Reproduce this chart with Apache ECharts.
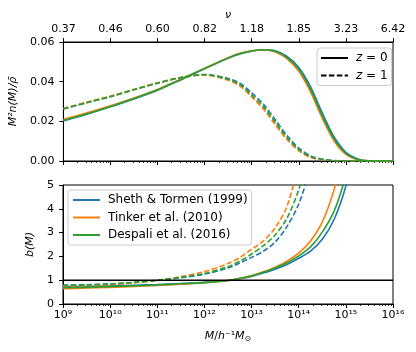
<!DOCTYPE html>
<html>
<head>
<meta charset="utf-8">
<script src="https://cdn.jsdelivr.net/npm/echarts@6/dist/echarts.min.js"></script>
<style>
html, body {margin: 0; padding: 0; background: #fff;}
#chart {width: 416px; height: 352px;}
</style>
</head>
<body>
<div id="chart"></div>
<script>
// log10(M / h^-1 Msun), shared by every curve
const logM = [9, 9.5, 10, 10.5, 11, 11.5, 12, 12.5, 12.75, 13, 13.25, 13.5, 13.75, 14, 14.25, 14.5, 14.75, 15, 15.25, 15.5, 16]

// top axis: nu at each decade
const nuLabels = ['0.37', '0.46', '0.60', '0.82', '1.18', '1.85', '3.23', '6.42']
const massLabels = ['10⁹', '10¹⁰', '10¹¹', '10¹²', '10¹³', '10¹⁴', '10¹⁵', '10¹⁶']

const models = ['Sheth & Tormen (1999)', 'Tinker et al. (2010)', 'Despali et al. (2016)']
const colors = ['#1f77b4', '#ff7f0e', '#2ca02c']

// M^2 n(M) / rho_bar
const mfST0 = [0.0202, 0.0236, 0.0273, 0.0313, 0.0357, 0.0410, 0.0465, 0.0518, 0.0540, 0.0554, 0.0561, 0.0556, 0.0527, 0.0472, 0.0374, 0.0241, 0.0121, 0.0044, 0.0010, 0.0001, 0]
const mfT0 = [0.0210, 0.0243, 0.0279, 0.0318, 0.0361, 0.0413, 0.0468, 0.0521, 0.0543, 0.0556, 0.0560, 0.0550, 0.0515, 0.0452, 0.0347, 0.0214, 0.0101, 0.0033, 0.0006, 0.0001, 0]
const mfD0 = [0.0204, 0.0238, 0.0275, 0.0315, 0.0359, 0.0412, 0.0467, 0.0520, 0.0542, 0.0555, 0.0561, 0.0553, 0.0521, 0.0462, 0.0360, 0.0227, 0.0110, 0.0038, 0.0008, 0.0001, 0]
const mfST1 = [0.0262, 0.0294, 0.0324, 0.0359, 0.0392, 0.0421, 0.0436, 0.0416, 0.0392, 0.0343, 0.0286, 0.0208, 0.0128, 0.0065, 0.0026, 0.0009, 0.0002, 0.0001, 0, 0, 0]
const mfT1 = [0.0265, 0.0297, 0.0327, 0.0361, 0.0394, 0.0421, 0.0433, 0.0407, 0.0378, 0.0322, 0.0261, 0.0183, 0.0107, 0.0051, 0.0018, 0.0006, 0.0001, 0, 0, 0, 0]
const mfD1 = [0.0263, 0.0295, 0.0325, 0.0360, 0.0393, 0.0421, 0.0435, 0.0412, 0.0385, 0.0332, 0.0273, 0.0195, 0.0117, 0.0058, 0.0022, 0.0008, 0.0002, 0.0001, 0, 0, 0]

// b(M)
const bST0 = [0.73, 0.74, 0.76, 0.79, 0.82, 0.86, 0.91, 0.99, 1.06, 1.16, 1.30, 1.46, 1.66, 1.92, 2.22, 2.72, 3.55, 4.95, 7.0, null, null]
const bT0 = [0.64, 0.67, 0.70, 0.74, 0.78, 0.83, 0.89, 0.98, 1.07, 1.19, 1.35, 1.55, 1.80, 2.15, 2.65, 3.45, 4.8, 6.8, null, null, null]
const bD0 = [0.68, 0.70, 0.73, 0.76, 0.80, 0.85, 0.90, 0.99, 1.08, 1.19, 1.33, 1.51, 1.73, 2.02, 2.40, 3.02, 3.9, 5.4, 7.5, null, null]
const bST1 = [0.79, 0.81, 0.84, 0.90, 0.99, 1.10, 1.25, 1.51, 1.72, 1.96, 2.22, 2.60, 3.25, 4.2, 5.7, null, null, null, null, null, null]
const bT1 = [0.73, 0.76, 0.81, 0.89, 0.99, 1.15, 1.36, 1.70, 1.95, 2.30, 2.65, 3.2, 4.1, 5.85, null, null, null, null, null, null, null]
const bD1 = [0.78, 0.80, 0.84, 0.91, 1.00, 1.12, 1.28, 1.57, 1.80, 2.10, 2.45, 2.9, 3.6, 4.8, 6.5, null, null, null, null, null, null]

const unityX = [9, 16]
const unityY = [1, 1]

// minor ticks of a log axis, in log10 units
const minorTicks = []
for (let n = 9; n < 16; n++) {
    for (let k = 2; k <= 9; k++) {
        minorTicks.push(n + Math.log10(k))
    }
}

const FONT = 'DejaVu Sans'

function pairs(xs, ys) {
    const out = []
    xs.forEach((x, i) => {
        if (ys[i] !== null && ys[i] !== undefined) out.push([x, ys[i]])
    })
    return out
}

function curve(name, color, ys, dashed, axis) {
    return {
        name: name,
        type: 'line',
        xAxisIndex: axis,
        yAxisIndex: axis === 0 ? 0 : 1,
        data: pairs(logM, ys),
        symbol: 'none',
        smooth: 0.3,
        color: color,
        lineStyle: {color: color, width: 1.6, type: dashed ? [5.5, 2.4] : 'solid'},
        clip: true,
        animation: false
    }
}

const majorAxis = (grid, extra) => Object.assign({
    type: 'value', gridIndex: grid, min: 9, max: 16, interval: 1,
    axisLine: {show: true, onZero: false, lineStyle: {color: '#000', width: 1}},
    axisTick: {show: true, inside: false, length: 4, lineStyle: {color: '#000', width: 1}},
    axisLabel: {show: false},
    splitLine: {show: false}
}, extra)

const minorAxis = (grid) => ({
    type: 'value', gridIndex: grid, min: 9, max: 16, position: 'bottom',
    axisLine: {show: false},
    axisTick: {show: true, inside: false, length: 2, customValues: minorTicks, lineStyle: {color: '#000', width: 0.8}},
    axisLabel: {show: false},
    splitLine: {show: false}
})

const chart = echarts.init(document.getElementById('chart'), null, {renderer: 'canvas'})

const series = []
series.push(curve(models[0], colors[0], mfST0, false, 0))
series.push(curve(models[0], colors[0], mfST1, true, 0))
series.push(curve(models[1], colors[1], mfT0, false, 0))
series.push(curve(models[1], colors[1], mfT1, true, 0))
series.push(curve(models[2], colors[2], mfD0, false, 0))
series.push(curve(models[2], colors[2], mfD1, true, 0))

series.push(curve(models[0], colors[0], bST0, false, 3))
series.push(curve(models[0], colors[0], bST1, true, 3))
series.push(curve(models[1], colors[1], bT0, false, 3))
series.push(curve(models[1], colors[1], bT1, true, 3))
series.push(curve(models[2], colors[2], bD0, false, 3))
series.push(curve(models[2], colors[2], bD1, true, 3))

series.push({
    name: 'unity', type: 'line', xAxisIndex: 3, yAxisIndex: 1,
    data: pairs(unityX, unityY), symbol: 'none',
    lineStyle: {color: '#000', width: 1.5}, color: '#000', animation: false
})

// empty series just for the redshift legend
series.push({name: 'z0', type: 'line', xAxisIndex: 0, yAxisIndex: 0, data: [], symbol: 'none', color: '#000', lineStyle: {color: '#000', width: 1.6}})
series.push({name: 'z1', type: 'line', xAxisIndex: 0, yAxisIndex: 0, data: [], symbol: 'none', color: '#000', lineStyle: {color: '#000', width: 1.6, type: [5.5, 2.4]}})

const legendBase = {
    orient: 'vertical',
    backgroundColor: 'rgba(255,255,255,0.8)',
    borderColor: '#cccccc',
    borderWidth: 1,
    borderRadius: 3,
    itemWidth: 27,
    itemHeight: 12,
    itemGap: 5.5,
    selectedMode: false,
    itemStyle: {color: 'rgba(0,0,0,0)', borderWidth: 0, opacity: 0},
    textStyle: {fontFamily: FONT, fontSize: 12, color: '#000', padding: [0, 0, 0, 3],
        rich: {i: {fontFamily: FONT, fontStyle: 'italic', fontSize: 12, color: '#000'}}}
}

chart.setOption({
    animation: false,
    backgroundColor: '#fff',
    grid: [
        {left: 63, right: 23, top: 42, height: 119, show: true, borderColor: '#000', borderWidth: 1, backgroundColor: 'transparent'},
        {left: 63, right: 23, top: 185, height: 119, show: true, borderColor: '#000', borderWidth: 1, backgroundColor: 'transparent'}
    ],
    legend: [
        Object.assign({}, legendBase, {
            data: ['z0', 'z1'], left: 317, top: 48, padding: [4, 4, 4, 3],
            formatter: n => n === 'z0' ? '{i|z} = 0' : '{i|z} = 1'
        }),
        Object.assign({}, legendBase, {
            data: models, left: 68, top: 190, padding: [4, 4, 4, 4]
        })
    ],
    xAxis: [
        majorAxis(0, {position: 'bottom'}),
        minorAxis(0),
        majorAxis(0, {
            position: 'top',
            axisLabel: {show: true, margin: 7, fontFamily: FONT, fontSize: 11, color: '#000',
                formatter: v => nuLabels[Math.round(v - 9)]},
            name: 'ν', nameLocation: 'middle', nameGap: 21,
            nameTextStyle: {fontFamily: FONT, fontSize: 11, fontStyle: 'italic', color: '#000'}
        }),
        majorAxis(1, {
            position: 'bottom',
            axisLabel: {show: true, margin: 6, fontFamily: FONT, fontSize: 11, color: '#000',
                formatter: v => massLabels[Math.round(v - 9)]},
            name: '{i|M}/{i|h}⁻¹{i|M}{s|⊙}', nameLocation: 'middle', nameGap: 26,
            nameTextStyle: {fontFamily: FONT, fontSize: 11, color: '#000',
                rich: {i: {fontFamily: FONT, fontSize: 11, fontStyle: 'italic', color: '#000'},
                       s: {fontFamily: FONT, fontSize: 8, color: '#000', padding: [5, 0, 0, 0]}}}
        }),
        minorAxis(1)
    ],
    yAxis: [
        {
            type: 'value', gridIndex: 0, min: 0, max: 0.06, interval: 0.02,
            axisLine: {show: true, lineStyle: {color: '#000', width: 1}},
            axisTick: {show: true, length: 4, lineStyle: {color: '#000'}},
            axisLabel: {margin: 9, fontFamily: FONT, fontSize: 11, color: '#000', formatter: v => v.toFixed(2)},
            splitLine: {show: false},
            name: 'M²n(M)/ρ̄', nameLocation: 'middle', nameGap: 40, nameRotate: 90,
            nameTextStyle: {fontFamily: FONT, fontSize: 11, fontStyle: 'italic', color: '#000'}
        },
        {
            type: 'value', gridIndex: 1, min: 0, max: 5, interval: 1,
            axisLine: {show: true, lineStyle: {color: '#000', width: 1}},
            axisTick: {show: true, length: 4, lineStyle: {color: '#000'}},
            axisLabel: {margin: 9, fontFamily: FONT, fontSize: 11, color: '#000'},
            splitLine: {show: false},
            name: 'b(M)', nameLocation: 'middle', nameGap: 14, nameRotate: 90,
            nameTextStyle: {fontFamily: FONT, fontSize: 11, fontStyle: 'italic', color: '#000'}
        }
    ],
    series: series
})
</script>
</body>
</html>
